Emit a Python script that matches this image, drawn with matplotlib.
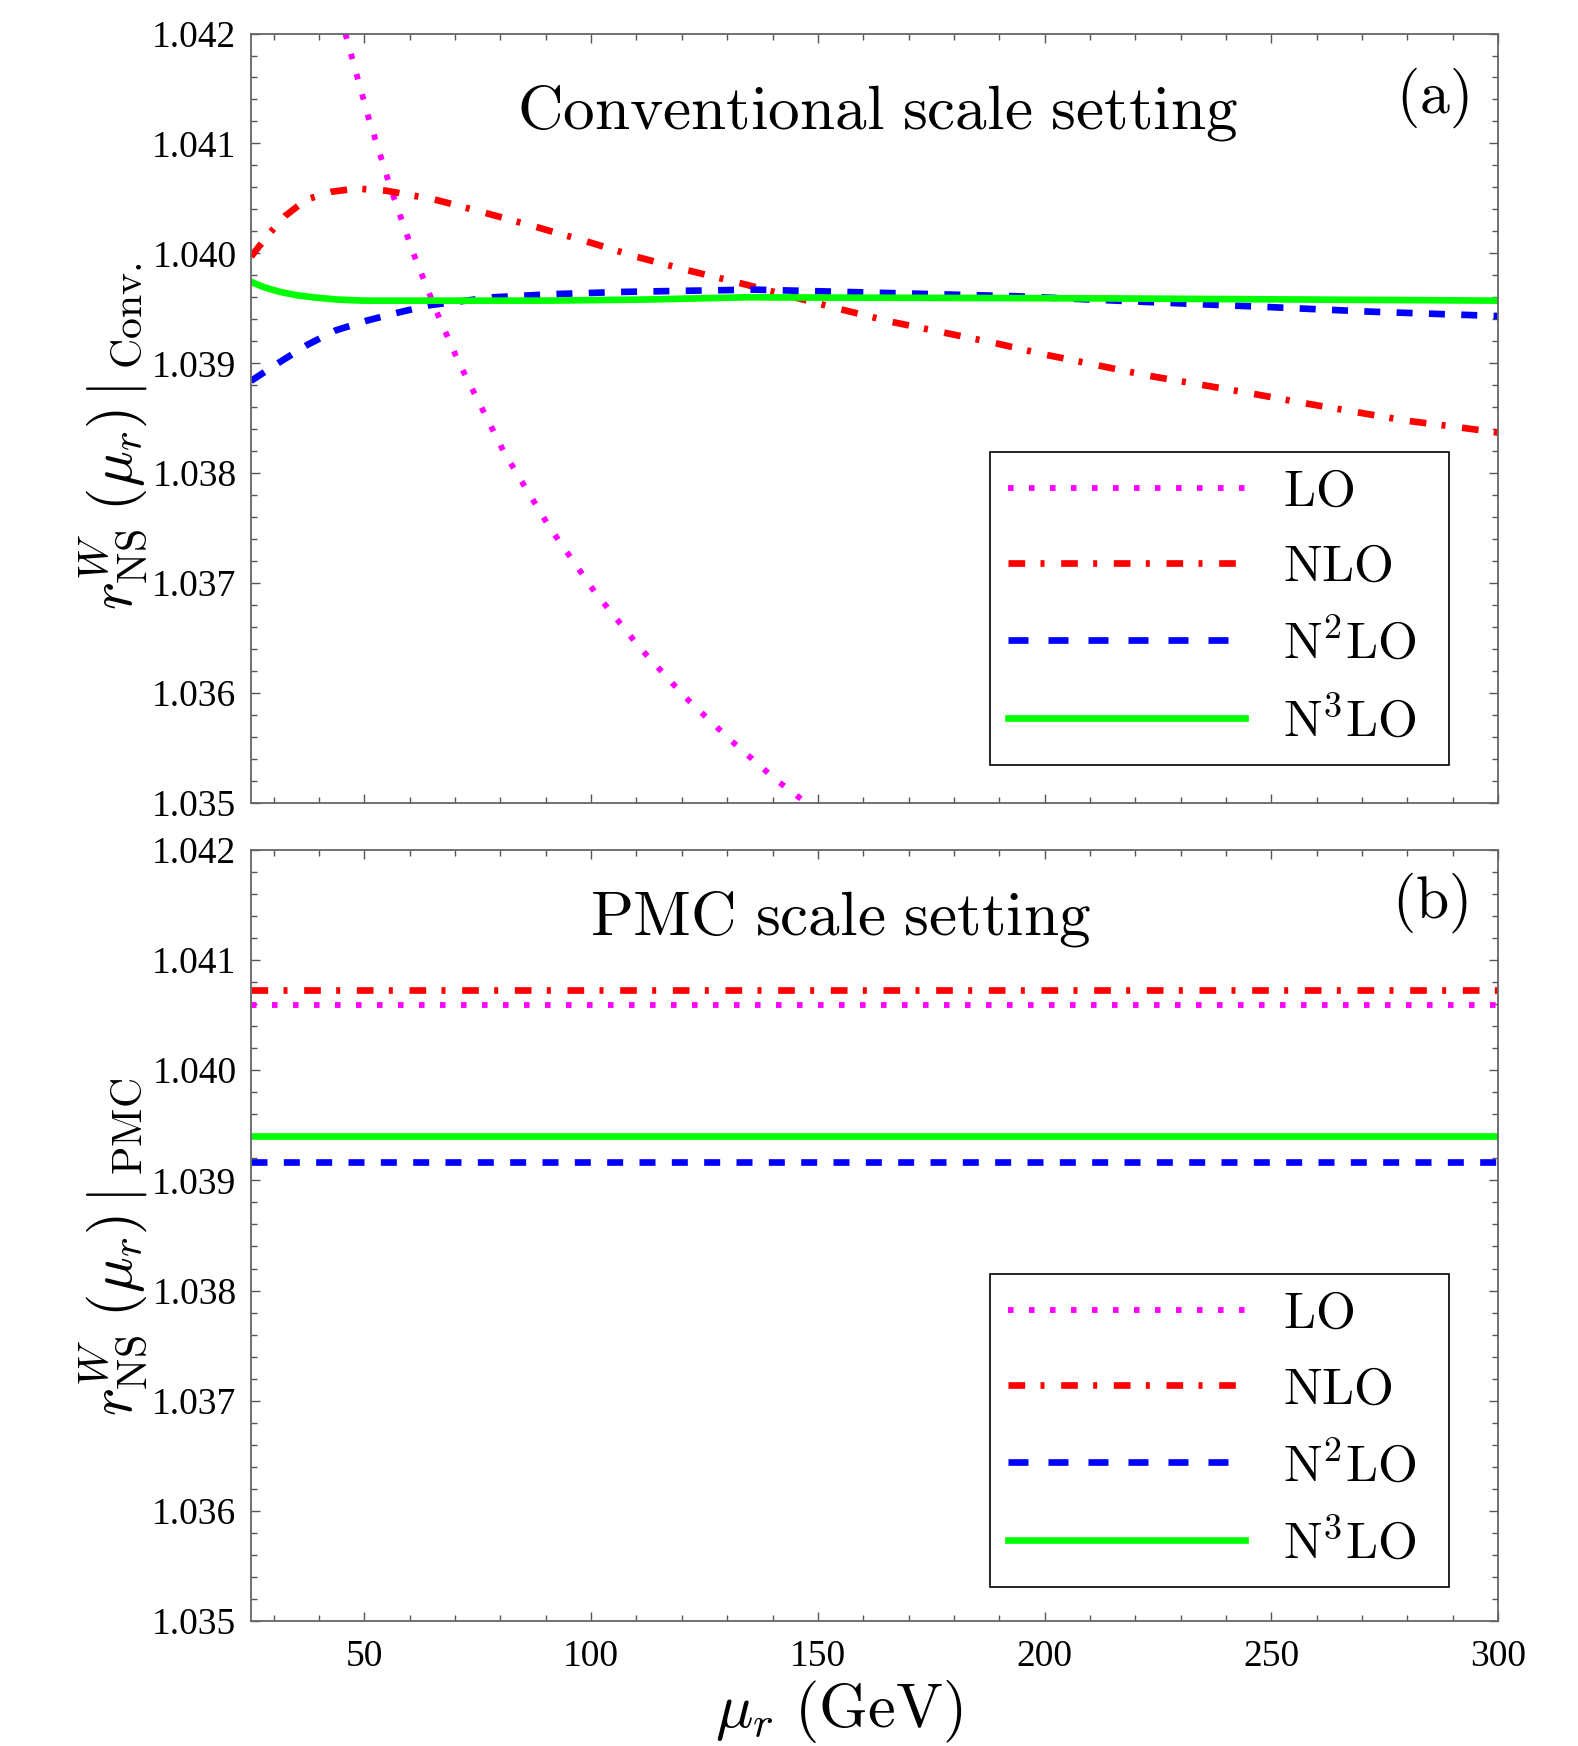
import matplotlib
matplotlib.use('Agg')
import matplotlib.pyplot as plt
from matplotlib.ticker import MultipleLocator, FormatStrFormatter

plt.rcParams['mathtext.fontset'] = 'cm'
plt.rcParams['font.family'] = ['Liberation Serif', 'DejaVu Serif']

# ---------------- data ----------------
# (a) conventional scale setting
mu_lo = [45.8, 50.8, 55.8, 60.8, 65.8, 70.8, 80.8, 90.8, 100.8, 110.8, 120.8,
         130.8, 140.8, 147.8]
r_lo = [1.04200, 1.04125, 1.04059, 1.04000, 1.03948, 1.03901, 1.03819, 1.03751,
        1.03692, 1.03641, 1.03596, 1.03557, 1.03521, 1.03499]

mu_nlo = [25, 28.8, 32.5, 37.2, 42.7, 48.2, 54.8, 65.5, 76.5, 87.9, 98.9, 109.9,
          120.9, 132.8, 154.2, 165.9, 177.7, 189.5, 200, 211.9, 222.5, 233.8,
          245, 256.9, 268.2, 279.4, 290.9, 300]
r_nlo = [1.03997, 1.04017, 1.04034, 1.04049, 1.04056, 1.04059, 1.04057, 1.04049,
         1.04037, 1.04024, 1.04011, 1.03997, 1.03985, 1.03973, 1.03950, 1.03938,
         1.03928, 1.03918, 1.03908, 1.03898, 1.03889, 1.03881, 1.03873, 1.03864,
         1.03856, 1.03848, 1.03842, 1.03837]

mu_n2lo = [25, 31.3, 37.5, 43.7, 50.7, 57.3, 64.6, 78.2, 92.1, 107.5, 121.5, 136,
           164.8, 193.6, 221.4, 250.3, 271.7, 300]
r_n2lo = [1.03884, 1.03901, 1.03917, 1.03930, 1.03939, 1.03946, 1.03953, 1.03960,
          1.03963, 1.03965, 1.03966, 1.03967, 1.03964, 1.03961, 1.03956, 1.03951,
          1.03947, 1.03943]

mu_n3lo = [25, 28, 31.3, 35, 38.7, 44, 49.7, 64.4, 90, 112, 134, 215, 300]
r_n3lo = [1.03974, 1.03969, 1.03965, 1.03962, 1.03960, 1.03958, 1.03957, 1.03957,
          1.03957, 1.03958, 1.03960, 1.03959, 1.03957]

# (b) PMC scale setting (scale independent)
mu_pmc = [25, 300]
pmc_lo = 1.04059
pmc_nlo = 1.04073
pmc_n2lo = 1.03917
pmc_n3lo = 1.03940

labels = [r'$\mathrm{LO}$', r'$\mathrm{NLO}$', r'$\mathrm{N}^{2}\mathrm{LO}$',
          r'$\mathrm{N}^{3}\mathrm{LO}$']

# ---------------- styles ----------------
st_lo = dict(color='#ff00ff', lw=4.2, ls=(0, (0.95, 2.65)))
st_nlo = dict(color='#ff0000', lw=4.8, ls=(0, (2.5, 2.3, 0.6, 2.5)))
st_n2lo = dict(color='#0000ff', lw=4.8, ls=(0, (2.4, 2.45)))
st_n3lo = dict(color='#00ff00', lw=4.8, ls='-')

fig = plt.figure(figsize=(15.78, 17.46), dpi=100)
ax1 = fig.add_axes([0.1591, 0.5401, 0.7902, 0.4407])
ax2 = fig.add_axes([0.1591, 0.0716, 0.7902, 0.4416])


def style_axes(ax, show_x):
    ax.set_xlim(25, 300)
    ax.set_ylim(1.035, 1.042)
    ax.xaxis.set_major_locator(MultipleLocator(50))
    ax.xaxis.set_minor_locator(MultipleLocator(10))
    ax.yaxis.set_major_locator(MultipleLocator(0.001))
    ax.yaxis.set_minor_locator(MultipleLocator(0.0002))
    ax.yaxis.set_major_formatter(FormatStrFormatter('%.3f'))
    ax.tick_params(which='both', direction='in', top=True, right=True,
                   color='#555555', width=1.0, labelsize=27)
    ax.tick_params(which='major', length=6.5)
    ax.tick_params(which='minor', length=4.3)
    ax.tick_params(axis='y', pad=10.5)
    ax.tick_params(axis='x', pad=13.5, labelbottom=show_x)
    for s in ax.spines.values():
        s.set_color('#666666')
        s.set_linewidth(1.3)


def add_legend(ax, y_top):
    leg = ax.legend(loc='upper left', bbox_to_anchor=(0.593, y_top, 0.368, 0),
                    mode='expand', borderaxespad=0, fontsize=37, frameon=True,
                    fancybox=False, edgecolor='black', framealpha=1,
                    borderpad=0.35, labelspacing=0.55, handlelength=4.6,
                    handletextpad=0.75)
    leg.get_frame().set_linewidth(1.2)
    leg.get_lines()[2].set_linestyle((0, (3.0, 3.0)))
    return leg


# panel (a)
ax1.plot(mu_lo, r_lo, label=labels[0], **st_lo)
ax1.plot(mu_nlo, r_nlo, label=labels[1], **st_nlo)
ax1.plot(mu_n2lo, r_n2lo, label=labels[2], **st_n2lo)
ax1.plot(mu_n3lo, r_n3lo, label=labels[3], **st_n3lo)
style_axes(ax1, False)
add_legend(ax1, 0.4565)
ax1.text(0.502, 0.877, r'$\mathrm{Conventional\ scale\ setting}$', fontsize=45.5,
         ha='center', va='baseline', transform=ax1.transAxes)
ax1.text(0.9475, 0.916, r'$\mathrm{(a)}$', fontsize=43, ha='center', va='center',
         transform=ax1.transAxes)
ax1.set_ylabel(r'$r^{W}_{\mathrm{NS}}\;(\mu_r)\,|\,_{\mathrm{Conv.}}$', fontsize=43,
               ha='left', va='center')
ax1.yaxis.set_label_coords(-0.1105, 0.251)

# panel (b)
ax2.plot(mu_pmc, [pmc_lo] * 2, label=labels[0], **st_lo)
ax2.plot(mu_pmc, [pmc_nlo] * 2, label=labels[1], **st_nlo)
ax2.plot(mu_pmc, [pmc_n2lo] * 2, label=labels[2], **st_n2lo)
ax2.plot(mu_pmc, [pmc_n3lo] * 2, label=labels[3], **st_n3lo)
style_axes(ax2, True)
add_legend(ax2, 0.4500)
ax2.text(0.473, 0.890, r'$\mathrm{PMC\ scale\ setting}$', fontsize=45.5,
         ha='center', va='baseline', transform=ax2.transAxes)
ax2.text(0.945, 0.932, r'$\mathrm{(b)}$', fontsize=43, ha='center', va='center',
         transform=ax2.transAxes)
ax2.set_ylabel(r'$r^{W}_{\mathrm{NS}}\;(\mu_r)\,|\,_{\mathrm{PMC}}$', fontsize=43,
               ha='left', va='center')
ax2.yaxis.set_label_coords(-0.1105, 0.266)
ax2.set_xlabel(r'$\mu_r\ (\mathrm{GeV})$', fontsize=45, va='center')
ax2.xaxis.set_label_coords(0.471, -0.118)

fig.savefig('out.png', dpi=100)
